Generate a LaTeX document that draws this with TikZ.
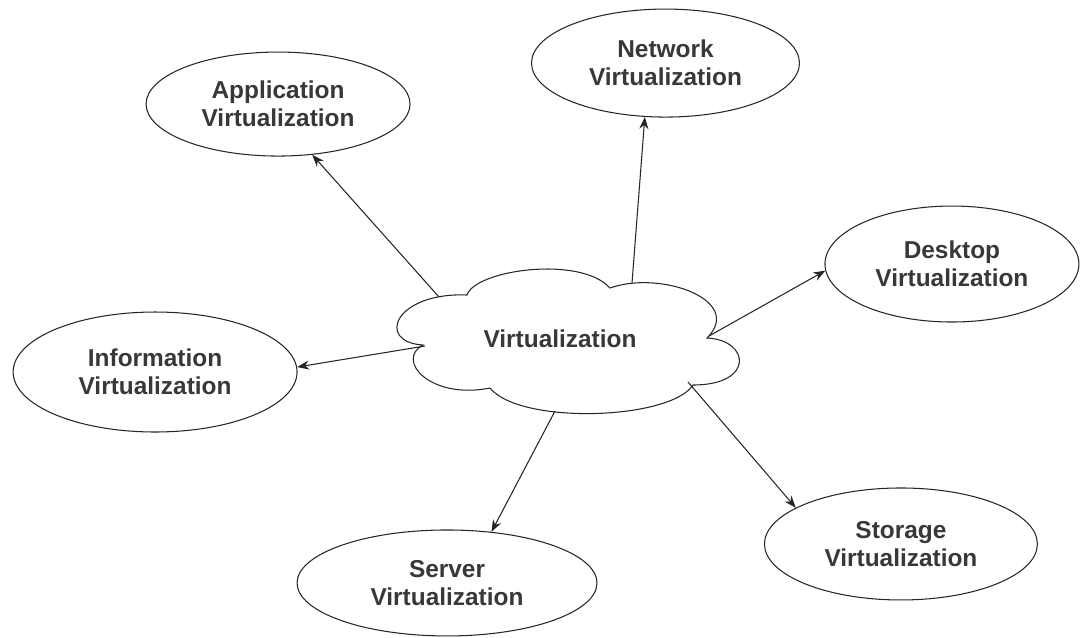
\documentclass[tikz,border=0pt]{standalone}
\usepackage{fontspec}
\setmainfont{Liberation Sans}
\usetikzlibrary{positioning,shapes.geometric,arrows.meta}

\begin{document}
\begin{tikzpicture}[x=0.02cm, y=-0.02cm, node distance=1cm, on grid,
	every node/.style={font=\bfseries\fontsize{13.9}{15.9}\selectfont, text=black!78, align=center},
	kind/.style={ellipse, draw=black!85, line width=0.6pt, inner sep=0pt},
	link/.style={-{Stealth[length=2.4mm,width=1.8mm]}, line width=0.6pt, draw=black!85}]
		\useasboundingbox (0,0) rectangle (1087,637);
		% the cloud
		\draw[draw=black!85, line width=0.6pt] (423,345) .. controls (375,342) and (395,292) .. (467,295)
			.. controls (475,270) and (580,255) .. (610,288)
			.. controls (660,270) and (745,300) .. (707,338)
			.. controls (750,340) and (755,385) .. (693,385)
			.. controls (670,420) and (520,425) .. (490,388)
			.. controls (430,400) and (395,360) .. cycle;
		\node (virt) at (560,339) {Virtualization};
		\coordinate (c-app) at (439,297);
		\coordinate (c-net) at (632,283);
		\coordinate (c-desk) at (709,336);
		\coordinate (c-info) at (425,346);
		\coordinate (c-serv) at (555,411);
		\coordinate (c-stor) at (688,382);
		% the kinds
		\node (app) [kind, minimum width=5.28cm, minimum height=2.08cm, above left=4.7cm and 5.64cm of virt] {Application\\Virtualization};
		\node (net) [kind, minimum width=5.36cm, minimum height=2.16cm, above right=5.52cm and 2.11cm of virt] {Network\\Virtualization};
		\node (desk) [kind, minimum width=5.08cm, minimum height=2.32cm, above right=1.5cm and 7.84cm of virt] {Desktop\\Virtualization};
		\node (info) [kind, minimum width=5.68cm, minimum height=2.4cm, below left=0.66cm and 8.1cm of virt] {Information\\Virtualization};
		\node (serv) [kind, minimum width=6.0cm, minimum height=2.12cm, below left=4.88cm and 2.26cm of virt] {Server\\Virtualization};
		\node (stor) [kind, minimum width=5.46cm, minimum height=2.24cm, below right=4.1cm and 6.82cm of virt] {Storage\\Virtualization};
		\draw[link] (c-app) -- (app.-56);
		\draw[link] (c-net) -- (net.-111);
		\draw[link] (c-desk) -- (desk.183);
		\draw[link] (c-info) -- (info.2);
		\draw[link] (c-serv) -- (serv.49);
		\draw[link] (c-stor) -- (stor.161);
\end{tikzpicture}
\end{document}
